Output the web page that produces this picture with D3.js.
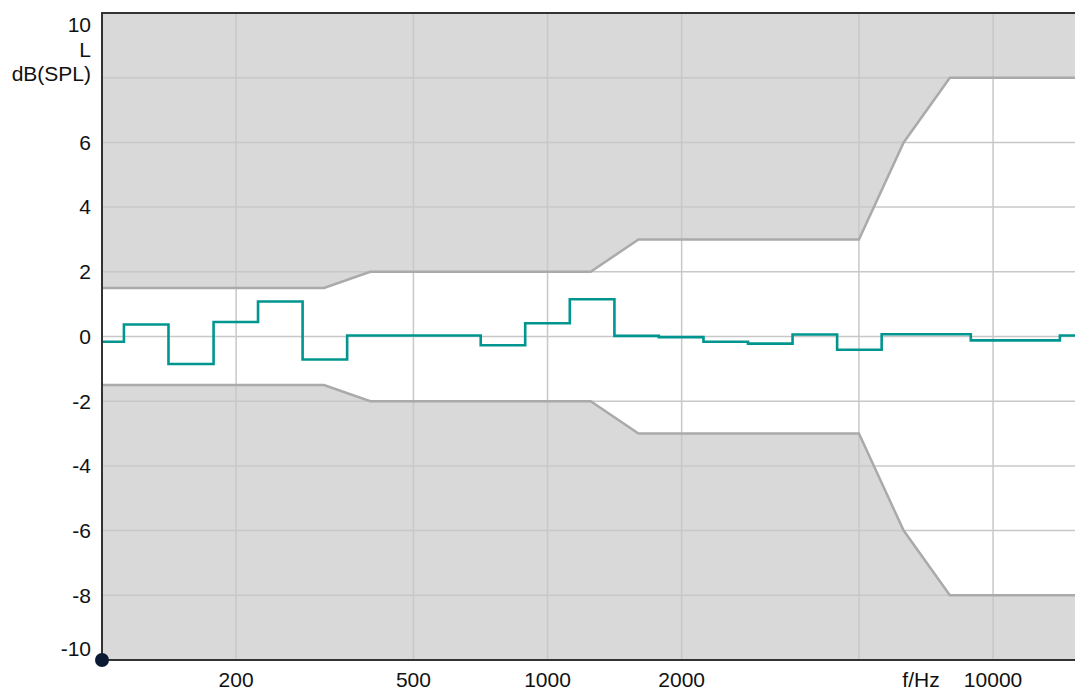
<!DOCTYPE html>
<html lang="en">
<head>
<meta charset="UTF-8">
<title>Frequency response tolerance</title>
<script src="https://d3js.org/d3.v7.min.js"></script>
<style>
    body { margin: 0; background: #fff; }
    svg { display: block; font-family: "Liberation Sans", Arial, sans-serif; }
</style>
</head>
<body>
<svg id="chart"></svg>
<script>
    // tolerance mask (Hz, dB)
    const tolFreq  = [100, 315, 400, 1250, 1600, 5000, 6300, 8000, 16000];
    const tolUpper = [1.5, 1.5, 2, 2, 3, 3, 6, 8, 8];
    const tolLower = [-1.5, -1.5, -2, -2, -3, -3, -6, -8, -8];

    // third-octave band edges and measured level per band
    const bandEdges = [100, 112, 141, 178, 224, 282, 355, 447, 562, 708, 891, 1122,
                       1413, 1778, 2239, 2818, 3548, 4467, 5623, 7079, 8913, 11220, 14125, 16000];
    const bandLevel = [-0.16, 0.37, -0.85, 0.45, 1.08, -0.71, 0.03, 0.03, 0.03, -0.27, 0.41, 1.15,
                       0.02, -0.02, -0.16, -0.22, 0.06, -0.41, 0.07, 0.07, -0.12, -0.12, 0.03];

    const xGrid = [200, 500, 1000, 2000, 5000, 10000];
    const xLabels = [200, 500, 1000, 2000, 10000];
    const yGrid = [-8, -6, -4, -2, 0, 2, 4, 6, 8];
    const yLabels = [-10, -8, -6, -4, -2, 0, 2, 4, 6, 10];

    const width = 1075, height = 690;
    const mLeft = 102, mTop = 13, mBottom = 660, mRight = 1084;
    const fontSize = 21;

    const svg = d3.select("#chart").attr("width", width).attr("height", height);

    const x = d3.scaleLog().domain([100, 16000]).range([mLeft, mRight]);
    const y = d3.scaleLinear().domain([-10, 10]).range([mBottom, mTop]);

    const tol = tolFreq.map((f, i) => ({f: f, up: tolUpper[i], lo: tolLower[i]}));

    // white plot area, grey outside the mask
    svg.append("rect").attr("x", mLeft).attr("y", mTop)
        .attr("width", mRight - mLeft).attr("height", mBottom - mTop).attr("fill", "#fff");

    svg.append("path").datum(tol)
        .attr("fill", "#d9d9d9")
        .attr("d", d3.area().x(d => x(d.f)).y0(y(10)).y1(d => y(d.up)));
    svg.append("path").datum(tol)
        .attr("fill", "#d9d9d9")
        .attr("d", d3.area().x(d => x(d.f)).y0(y(-10)).y1(d => y(d.lo)));

    // grid
    svg.append("g").selectAll("line").data(xGrid).join("line")
        .attr("x1", d => x(d)).attr("x2", d => x(d))
        .attr("y1", mTop).attr("y2", mBottom)
        .attr("stroke", "#c8c8c8").attr("stroke-width", 1.5);
    svg.append("g").selectAll("line").data(yGrid).join("line")
        .attr("x1", mLeft).attr("x2", mRight)
        .attr("y1", d => y(d)).attr("y2", d => y(d))
        .attr("stroke", "#c8c8c8").attr("stroke-width", 1.5);

    // tolerance lines
    svg.append("path").datum(tol)
        .attr("fill", "none").attr("stroke", "#aaaaaa").attr("stroke-width", 2.5)
        .attr("d", d3.line().x(d => x(d.f)).y(d => y(d.up)));
    svg.append("path").datum(tol)
        .attr("fill", "none").attr("stroke", "#aaaaaa").attr("stroke-width", 2.5)
        .attr("d", d3.line().x(d => x(d.f)).y(d => y(d.lo)));

    // measured response
    const steps = bandLevel.map((v, i) => [bandEdges[i], v]);
    steps.push([bandEdges[bandEdges.length - 1], bandLevel[bandLevel.length - 1]]);
    svg.append("path").datum(steps)
        .attr("fill", "none").attr("stroke", "#00968f").attr("stroke-width", 2.6)
        .attr("stroke-linejoin", "miter")
        .attr("d", d3.line().x(d => x(d[0])).y(d => y(d[1])).curve(d3.curveStepAfter));

    // frame (left, top, bottom)
    svg.append("path")
        .attr("fill", "none").attr("stroke", "#333").attr("stroke-width", 2)
        .attr("d", `M${mRight},${mTop}H${mLeft}V${mBottom}H${mRight}`);

    // y tick labels
    svg.append("g").selectAll("text").data(yLabels).join("text")
        .attr("x", mLeft - 11)
        .attr("y", d => y(d) + (d === 10 ? 12 : d === -10 ? -11 : 0))
        .attr("dy", "0.35em")
        .attr("text-anchor", "end")
        .attr("font-size", fontSize)
        .attr("fill", "#111")
        .text(d => d);

    svg.append("text").attr("x", mLeft - 11).attr("y", 57)
        .attr("text-anchor", "end").attr("font-size", fontSize).attr("fill", "#111").text("L");
    svg.append("text").attr("x", mLeft - 11).attr("y", 81)
        .attr("text-anchor", "end").attr("font-size", fontSize).attr("fill", "#111").text("dB(SPL)");

    // x tick labels
    svg.append("g").selectAll("text").data(xLabels).join("text")
        .attr("x", d => x(d))
        .attr("y", 687)
        .attr("text-anchor", "middle")
        .attr("font-size", fontSize)
        .attr("fill", "#111")
        .text(d => d);
    svg.append("text").attr("x", 921).attr("y", 687)
        .attr("text-anchor", "middle").attr("font-size", fontSize).attr("fill", "#111").text("f/Hz");

    // origin marker
    svg.append("circle").attr("cx", mLeft).attr("cy", mBottom).attr("r", 7).attr("fill", "#0b1a33");
</script>
</body>
</html>
